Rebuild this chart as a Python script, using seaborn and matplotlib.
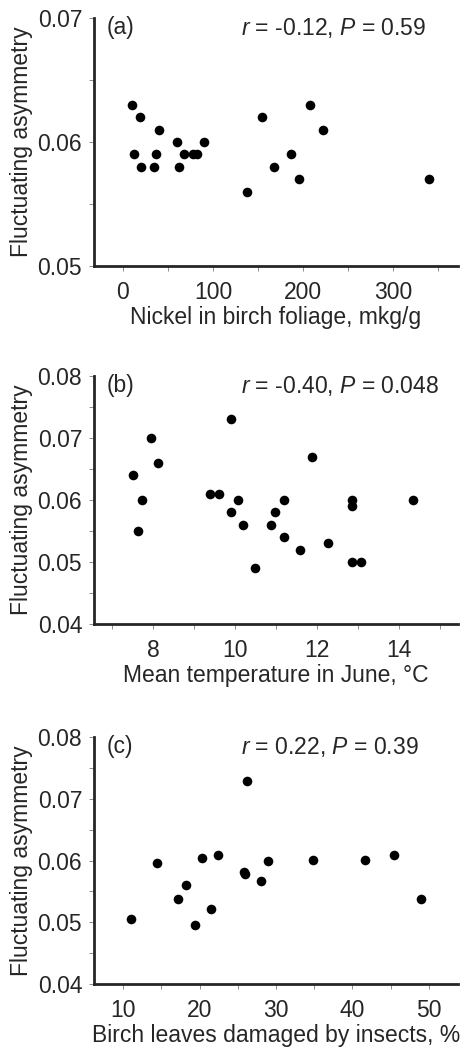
import numpy as np
import pandas as pd
import matplotlib
matplotlib.use("Agg")
import matplotlib.pyplot as plt
import seaborn as sns
from matplotlib.ticker import MultipleLocator

# panel (a): nickel in birch foliage
nickel = [10, 12, 19, 20, 35, 37, 40, 60, 62, 68, 78, 82, 90,
          138, 154, 168, 187, 195, 208, 222, 340]
fa_nickel = [0.063, 0.059, 0.062, 0.058, 0.058, 0.059, 0.061, 0.060, 0.058, 0.059, 0.059, 0.059, 0.060,
             0.056, 0.062, 0.058, 0.059, 0.057, 0.063, 0.061, 0.057]

# panel (b): mean June temperature
temp = [7.50, 7.64, 7.72, 7.95, 8.12, 9.38, 9.60, 9.89, 9.89, 10.07, 10.19, 10.48,
        10.88, 10.98, 11.18, 11.18, 11.57, 11.87, 12.26, 12.85, 12.85, 12.85, 13.06, 14.34]
fa_temp = [0.064, 0.055, 0.060, 0.070, 0.066, 0.061, 0.061, 0.073, 0.058, 0.060, 0.056, 0.049,
           0.056, 0.058, 0.060, 0.054, 0.052, 0.067, 0.053, 0.060, 0.059, 0.050, 0.050, 0.060]

# panel (c): insect damage
damage = [11.0, 14.4, 17.2, 18.2, 19.4, 20.3, 21.5, 22.4, 25.8, 25.9, 26.2, 28.0,
          29.0, 34.8, 41.7, 45.4, 48.9]
fa_damage = [0.0505, 0.0596, 0.0538, 0.0560, 0.0495, 0.0604, 0.0521, 0.0609, 0.0582, 0.0578, 0.0728, 0.0567,
             0.0600, 0.0601, 0.0601, 0.0609, 0.0537]

sns.set_style("ticks")
plt.rcParams['font.family'] = ['Liberation Sans', 'DejaVu Sans']
plt.rcParams['mathtext.fontset'] = 'custom'
plt.rcParams['mathtext.rm'] = 'Liberation Sans'
plt.rcParams['mathtext.it'] = 'Liberation Sans:italic'

FS = 16.5
W, H = 474, 1048
fig = plt.figure(figsize=(W / 100, H / 100), dpi=100)

def px_axes(left, right, top, bottom):
    return fig.add_axes([left / W, 1 - bottom / H, (right - left) / W, (bottom - top) / H])

panels = [
    dict(x=nickel, y=fa_nickel, box=(94, 458, 18, 266), xlim=(-32, 372), ylim=(0.05, 0.07),
         xmaj=100, xmin=50, tag="(a)", stat=r"$r$ = -0.12, $P$ = 0.59",
         xlabel="Nickel in birch foliage, mkg/g", yticks=["0.05", "0.06", "0.07"]),
    dict(x=temp, y=fa_temp, box=(94, 458, 376, 624), xlim=(6.56, 15.43), ylim=(0.04, 0.08),
         xmaj=2, xmin=1, tag="(b)", stat=r"$r$ = -0.40, $P$ = 0.048",
         xlabel="Mean temperature in June, °C", yticks=["0.04", "0.05", "0.06", "0.07", "0.08"]),
    dict(x=damage, y=fa_damage, box=(94, 458, 737, 984), xlim=(6.2, 53.8), ylim=(0.04, 0.08),
         xmaj=10, xmin=5, tag="(c)", stat=r"$r$ = 0.22, $P$ = 0.39",
         xlabel="Birch leaves damaged by insects, %", yticks=["0.04", "0.05", "0.06", "0.07", "0.08"]),
]

for p in panels:
    ax = px_axes(*p["box"])
    df = pd.DataFrame({"x": p["x"], "y": p["y"]})
    sns.scatterplot(data=df, x="x", y="y", ax=ax, color="black", s=48, edgecolor="black",
                    linewidth=0, legend=False, clip_on=False)
    ax.set_xlim(*p["xlim"])
    ax.set_ylim(*p["ylim"])
    ax.xaxis.set_major_locator(MultipleLocator(p["xmaj"]))
    ax.xaxis.set_minor_locator(MultipleLocator(p["xmin"]))
    ax.yaxis.set_minor_locator(MultipleLocator(0.005))
    ax.set_yticks(np.arange(p["ylim"][0], p["ylim"][1] + 1e-9, 0.01))
    ax.set_yticklabels(p["yticks"])
    sns.despine(ax=ax)
    for s in ["left", "bottom"]:
        ax.spines[s].set_linewidth(2.0)
    ax.tick_params(which="both", direction="out", length=3.5, width=0.6, color="#777777",
                   labelsize=FS, pad=5)
    ax.tick_params(axis="x", which="major", pad=7.5)
    ax.set_xlabel(p["xlabel"], fontsize=FS, labelpad=1.5)
    ax.set_ylabel("Fluctuating asymmetry", fontsize=FS, labelpad=3)
    ax.text(0.035, 1.01, p["tag"], transform=ax.transAxes, fontsize=FS, va="top", ha="left")
    ax.text((241 - 94) / 364, 1.01, p["stat"], transform=ax.transAxes, fontsize=FS,
            va="top", ha="left")

fig.savefig("out.png", dpi=100)
